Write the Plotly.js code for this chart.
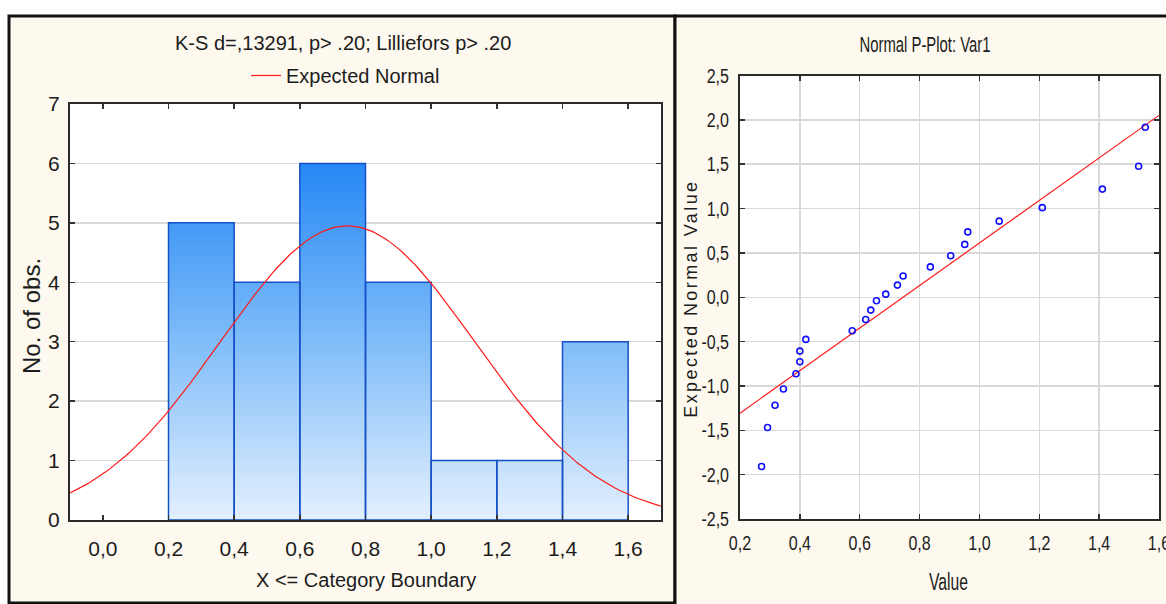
<!DOCTYPE html>
<html>
<head>
<meta charset="utf-8">
<script src="https://cdn.plot.ly/plotly-3.0.1.min.js"></script>
<style>
  html, body { margin: 0; padding: 0; background: #ffffff; }
  #chart { width: 1166px; height: 604px; }
</style>
</head>
<body>
<div id="chart"></div>
<script>
// ---------------- data ----------------
// Histogram (left): bin boundaries and counts
const binEdges  = [0.2, 0.4, 0.6, 0.8, 1.0, 1.2, 1.4, 1.6];
const binCounts = [5, 4, 6, 4, 1, 1, 3];
// Expected normal curve parameters
const nObs = 24;
const normMean = 0.745;
const normSD = 0.387;
// Normal P-plot (right): observed values and expected normal values
const pValues   = [0.272, 0.292, 0.317, 0.345, 0.387, 0.400, 0.400, 0.420, 0.575, 0.620, 0.637, 0.656,
                   0.687, 0.726, 0.745, 0.836, 0.904, 0.951, 0.961, 1.066, 1.210, 1.411, 1.532, 1.554];
const pExpected = [-1.908, -1.469, -1.218, -1.034, -0.862, -0.727, -0.607, -0.475, -0.378, -0.250, -0.145, -0.040,
                   0.035, 0.137, 0.239, 0.342, 0.468, 0.596, 0.737, 0.858, 1.010, 1.219, 1.477, 1.917];
// Reference line of the P-plot
const fitMean = 0.745;
const fitSD = 0.417;
// Tick labels
const histXTickVals = [0.0, 0.2, 0.4, 0.6, 0.8, 1.0, 1.2, 1.4, 1.6];
const histXTickText = ['0,0', '0,2', '0,4', '0,6', '0,8', '1,0', '1,2', '1,4', '1,6'];
const ppXTickVals = [0.2, 0.4, 0.6, 0.8, 1.0, 1.2, 1.4, 1.6];
const ppXTickText = ['0,2', '0,4', '0,6', '0,8', '1,0', '1,2', '1,4', '1,6'];
const ppYTickVals = [-2.5, -2.0, -1.5, -1.0, -0.5, 0.0, 0.5, 1.0, 1.5, 2.0, 2.5];
const ppYTickText = ['-2,5', '-2,0', '-1,5', '-1,0', '-0,5', '0,0', '0,5', '1,0', '1,5', '2,0', '2,5'];

// ---------------- layout geometry ----------------
const W = 1166, H = 604;
const px = v => v / W;
const py = v => 1 - v / H;

const REG = '"Liberation Sans", Arial, sans-serif';
const TXT = '#1c1c1c';

// histogram bars as filled polygons built from bin data
const barX = [], barY = [];
for (let i = 0; i < binCounts.length; i++) {
  const a = binEdges[i], b = binEdges[i + 1], c = binCounts[i];
  barX.push(a, a, b, b, a, null);
  barY.push(0, c, c, 0, 0, null);
}

// expected normal curve (counts per bin width)
const binW = binEdges[1] - binEdges[0];
const curveX = [], curveY = [];
for (let k = 0; k <= 180; k++) {
  const x = -0.1 + k * 0.01;
  const z = (x - normMean) / normSD;
  curveX.push(x);
  curveY.push(nObs * binW * Math.exp(-0.5 * z * z) / (normSD * Math.sqrt(2 * Math.PI)));
}

// P-plot reference line across axis range
const lineX = [0.2, 1.6];
const lineY = lineX.map(x => (x - fitMean) / fitSD);

const traces = [
  {
    type: 'scatter', mode: 'lines', x: barX, y: barY, xaxis: 'x', yaxis: 'y',
    fill: 'toself',
    fillgradient: { type: 'vertical', start: 0, stop: 6.2,
      colorscale: [[0, '#e3f0fd'], [0.5, '#7dbbf9'], [1, '#1f84f4']] },
    line: { color: '#1550c8', width: 1.5 },
    showlegend: false, hoverinfo: 'skip'
  },
  {
    type: 'scatter', mode: 'lines', x: curveX, y: curveY, xaxis: 'x', yaxis: 'y',
    name: 'Expected Normal', line: { color: '#ff1a1a', width: 1.2 }, showlegend: true
  },
  {
    type: 'scatter', mode: 'lines', x: lineX, y: lineY, xaxis: 'x2', yaxis: 'y2',
    line: { color: '#ff1a1a', width: 1.2 }, showlegend: false
  },
  {
    type: 'scatter', mode: 'markers', x: pValues, y: pExpected, xaxis: 'x2', yaxis: 'y2',
    marker: { symbol: 'circle-open', size: 6, color: '#1010ff', line: { width: 1.6, color: '#1010ff' } },
    showlegend: false
  }
];

const axisCommon = {
  showline: true, linecolor: '#2a2a2a', linewidth: 2, mirror: 'ticks',
  ticks: 'inside', ticklen: 5, tickwidth: 1.5, tickcolor: '#333',
  zeroline: false, gridcolor: '#d9d9d9', gridwidth: 1.5, fixedrange: true,
  ticklabeloverflow: 'allow'
};

const layout = {
  width: W, height: H,
  margin: { l: 0, r: 0, t: 0, b: 0 },
  paper_bgcolor: '#ffffff',
  plot_bgcolor: '#ffffff',
  showlegend: true,
  legend: {
    orientation: 'h', x: px(246), xanchor: 'left', y: py(75.5), yanchor: 'middle',
    bgcolor: 'rgba(0,0,0,0)', font: { family: REG, size: 20, color: TXT },
    itemwidth: 30
  },
  xaxis: Object.assign({}, axisCommon, {
    domain: [px(70), px(661)], range: [-0.1, 1.7], anchor: 'y',
    tickvals: histXTickVals, ticktext: histXTickText, showgrid: false,
    tickfont: { family: REG, size: 21, color: TXT }, ticklabelstandoff: 9
  }),
  yaxis: Object.assign({}, axisCommon, {
    domain: [py(520), py(104)], range: [0, 7], anchor: 'x', dtick: 1, showgrid: true,
    tickfont: { family: REG, size: 21, color: TXT }, ticklabelstandoff: 4
  }),
  xaxis2: Object.assign({}, axisCommon, {
    domain: [px(740), px(1159)], range: [0.2, 1.6], anchor: 'y2',
    tickvals: ppXTickVals, ticktext: ppXTickText, showgrid: true,
    tickfont: { family: REG, size: 20, color: TXT }, ticklabelstandoff: 5
  }),
  yaxis2: Object.assign({}, axisCommon, {
    domain: [py(519), py(75.5)], range: [-2.5, 2.5], anchor: 'x2',
    tickvals: ppYTickVals, ticktext: ppYTickText, showgrid: true,
    tickfont: { family: REG, size: 20, color: TXT }, ticklabelstandoff: 5
  }),
  shapes: [
    // panel backgrounds with borders
    { type: 'rect', xref: 'paper', yref: 'paper', layer: 'below',
      x0: px(9), x1: px(675), y0: py(603), y1: py(16),
      fillcolor: '#fdf9ef', line: { color: '#111', width: 3 } },
    { type: 'rect', xref: 'paper', yref: 'paper', layer: 'below',
      x0: px(675), x1: px(1172), y0: py(610), y1: py(16),
      fillcolor: '#fdf9ef', line: { color: '#111', width: 3 } },
    // white plot areas
    { type: 'rect', xref: 'x domain', yref: 'y domain', layer: 'below',
      x0: 0, x1: 1, y0: 0, y1: 1, fillcolor: '#ffffff', line: { width: 0 } },
    { type: 'rect', xref: 'x2 domain', yref: 'y2 domain', layer: 'below',
      x0: 0, x1: 1, y0: 0, y1: 1, fillcolor: '#ffffff', line: { width: 0 } }
  ],
  annotations: [
    { xref: 'paper', yref: 'paper', x: px(343), y: py(43.5), xanchor: 'center', yanchor: 'middle',
      text: 'K-S d=,13291, p> .20; Lilliefors p> .20', showarrow: false,
      font: { family: REG, size: 20, color: TXT } },
    { xref: 'paper', yref: 'paper', x: px(365.5), y: py(580), xanchor: 'center', yanchor: 'middle',
      text: 'X <= Category Boundary', showarrow: false,
      font: { family: REG, size: 20, color: TXT } },
    { xref: 'paper', yref: 'paper', x: px(31), y: py(316), xanchor: 'center', yanchor: 'middle',
      text: 'No. of obs.', textangle: -90, showarrow: false,
      font: { family: REG, size: 24, color: TXT } },
    { xref: 'paper', yref: 'paper', x: px(925), y: py(44), xanchor: 'center', yanchor: 'middle',
      text: 'Normal P-Plot: Var1', showarrow: false,
      font: { family: REG, size: 22, color: TXT } },
    { xref: 'paper', yref: 'paper', x: px(948), y: py(582), xanchor: 'center', yanchor: 'middle',
      text: 'Value', showarrow: false,
      font: { family: REG, size: 23, color: TXT } },
    { xref: 'paper', yref: 'paper', x: px(690.5), y: py(299), xanchor: 'center', yanchor: 'middle',
      text: 'Expected Normal Value', textangle: -90, showarrow: false,
      font: { family: REG, size: 18, color: TXT } }
  ]
};

// horizontally condense a text element (the right panel uses a narrow face)
function squeezeTo(el, width) {
  el.setAttribute('lengthAdjust', 'spacingAndGlyphs');
  el.setAttribute('textLength', width.toFixed(1));
}
function squeeze(el, factor) {
  const w = el.getComputedTextLength();
  if (w) squeezeTo(el, w * factor);
}

Plotly.newPlot('chart', traces, layout, { displayModeBar: false, staticPlot: true }).then(() => {
  document.querySelectorAll('.annotation-text').forEach(el => {
    const t = el.textContent;
    if (t === 'Expected Normal Value') el.style.letterSpacing = '2.4px';
    if (t === 'Normal P-Plot: Var1') squeezeTo(el, 131);
    if (t === 'Value') squeezeTo(el, 39);
  });
  document.querySelectorAll('.x2tick text, .y2tick text').forEach(el => squeeze(el, 0.8));
});
</script>
</body>
</html>
